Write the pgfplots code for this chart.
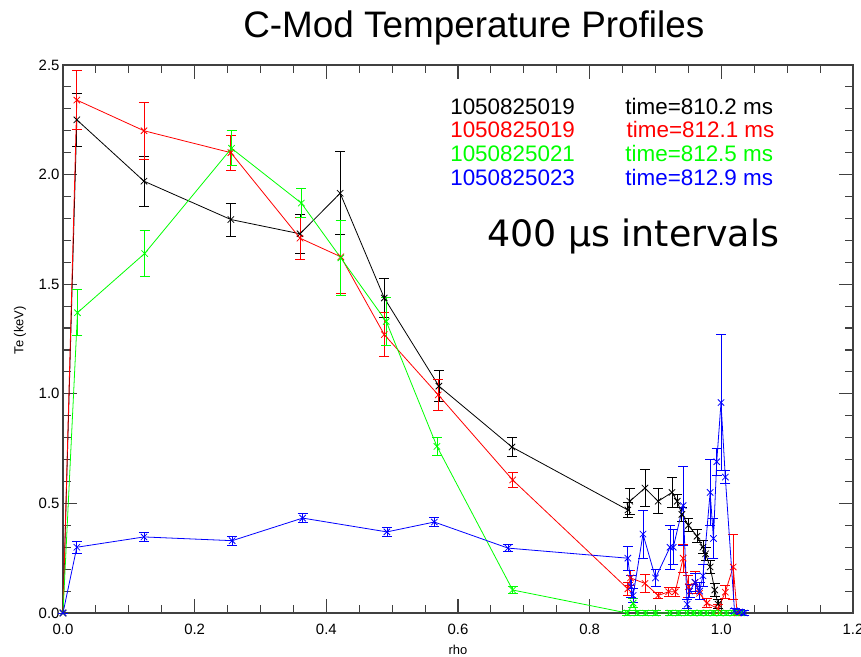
\documentclass[border=0pt]{standalone}
\usepackage{fontspec}
\setmainfont{Liberation Sans}
\newfontfamily\dejavu{DejaVu Sans}
\usepackage{pgfplots}
\pgfplotsset{compat=1.18}
\usepackage{pgfplotstable}

\pgfplotstableread{
x y e
0.000 0.00 0
0.021 2.25 0.12
0.123 1.97 0.115
0.255 1.795 0.075
0.360 1.73 0.09
0.421 1.915 0.19
0.488 1.437 0.09
0.571 1.035 0.07
0.682 0.757 0.043
0.858 0.47 0.035
0.861 0.51 0.06
0.884 0.57 0.085
0.904 0.51 0.057
0.925 0.55 0.07
0.933 0.51 0.03
0.940 0.45 0.03
0.950 0.40 0.03
0.963 0.35 0.03
0.972 0.30 0.03
0.976 0.27 0.03
0.983 0.21 0.03
0.990 0.105 0.03
0.995 0.04 0.02
}\tblack

\pgfplotstableread{
x y e
0.000 0.00 0
0.021 2.34 0.135
0.123 2.20 0.13
0.255 2.10 0.08
0.360 1.71 0.095
0.422 1.625 0.165
0.488 1.27 0.10
0.570 0.995 0.07
0.683 0.607 0.035
0.858 0.11 0.03
0.862 0.16 0.035
0.884 0.135 0.04
0.904 0.08 0.015
0.920 0.097 0.02
0.930 0.097 0.02
0.942 0.25 0.065
0.950 0.12 0.05
0.960 0.14 0.05
0.967 0.09 0.03
0.978 0.045 0.02
0.995 0.02 0.02
1.006 0.095 0.03
1.018 0.21 0.15
1.024 0.0 0
}\tred

\pgfplotstableread{
x y e
0.000 0.00 0
0.022 1.37 0.105
0.124 1.64 0.105
0.256 2.12 0.08
0.362 1.87 0.065
0.422 1.62 0.17
0.491 1.33 0.11
0.568 0.76 0.04
0.683 0.105 0.015
0.857 0.0 0.01
0.866 0.045 0.02
0.872 0.0 0.01
0.885 0.0 0.01
0.900 0.0 0.01
0.922 0.0 0.01
0.935 0.0 0.01
0.948 0.0 0.01
0.958 0.0 0.01
0.968 0.0 0.01
0.978 0.0 0.01
0.988 0.0 0.01
0.998 0.0 0.01
1.008 0.0 0.01
1.018 0.0 0.01
1.030 0.0 0.01
}\tgreen

\pgfplotstableread{
x y e
0.000 0.00 0
0.021 0.30 0.028
0.123 0.347 0.02
0.257 0.33 0.02
0.364 0.433 0.02
0.492 0.37 0.02
0.564 0.415 0.02
0.676 0.296 0.015
0.858 0.25 0.055
0.863 0.12 0.05
0.866 0.08 0.03
0.881 0.36 0.11
0.900 0.16 0.04
0.922 0.30 0.10
0.927 0.30 0.08
0.942 0.49 0.18
0.948 0.04 0.02
0.952 0.10 0.03
0.960 0.14 0.04
0.967 0.10 0.04
0.972 0.17 0.05
0.983 0.55 0.15
0.988 0.34 0.09
0.993 0.69 0.06
0.9995 0.96 0.31
1.006 0.62 0.03
1.020 0.01 0.01
1.028 0.005 0.01
1.035 0.0 0.01
}\tblue

\pgfplotsset{
  idl/.style={line width=0.8pt, mark=x, mark size=4.5bp,
    mark options={solid, line width=0.8pt},
    error bars/.cd, y dir=both, y explicit,
    error bar style={line width=0.8pt},
    error mark options={mark size=5bp, line width=0.8pt, rotate=90}},
}

\begin{document}
\begin{tikzpicture}
\begin{axis}[
  name=ax, at={(0,0)}, anchor=south west,
  scale only axis, width=790bp, height=548bp,
  xmin=0, xmax=1.2, ymin=0, ymax=2.5,
  xtick={0,0.2,0.4,0.6,0.8,1.0,1.2}, minor x tick num=3,
  ytick={0,0.5,1.0,1.5,2.0,2.5}, minor y tick num=4,
  tick align=inside,
  major tick length=14bp, minor tick length=8bp,
  axis line style={line width=1.5pt, black!75},
  every tick/.style={black!75, line width=1.1pt},
  /pgf/number format/assume math mode=true,
  /pgf/number format/fixed,
  /pgf/number format/fixed zerofill,
  /pgf/number format/precision=1,
  ticklabel style={font=\fontsize{15}{15}\selectfont},
  xticklabel style={yshift=-8bp},
  xlabel={rho}, ylabel={Te (keV)},
  every axis x label/.style={at={(rel axis cs:0.5,0)}, yshift=-37bp, anchor=center, font=\fontsize{13}{13}\selectfont},
  every axis y label/.style={at={(rel axis cs:0,0.516)}, xshift=-43bp, rotate=90, anchor=center, font=\fontsize{13}{13}\selectfont},
  title={C-Mod Temperature Profiles},
  title style={at={(rel axis cs:0.52,1)}, anchor=base, yshift=22bp, font=\fontsize{37}{37}\selectfont},
  clip=false,
]
\addplot[black, idl] table[x=x, y=y, y error=e] {\tblack};
\addplot[red, idl] table[x=x, y=y, y error=e] {\tred};
\addplot[green, idl] table[x=x, y=y, y error=e] {\tgreen};
\addplot[blue, idl] table[x=x, y=y, y error=e] {\tblue};

\begin{scope}[every node/.style={anchor=base west, inner sep=0pt, font=\fontsize{22.5}{22.5}\selectfont}]
\node[black] at (axis cs:0.588,2.272) {1050825019};
\node[red]   at (axis cs:0.588,2.167) {1050825019};
\node[green] at (axis cs:0.588,2.058) {1050825021};
\node[blue]  at (axis cs:0.588,1.948) {1050825023};
\node[black] at (axis cs:0.854,2.272) {time=810.2 ms};
\node[red]   at (axis cs:0.856,2.167) {time=812.1 ms};
\node[green] at (axis cs:0.854,2.058) {time=812.5 ms};
\node[blue]  at (axis cs:0.854,1.948) {time=812.9 ms};
\end{scope}
\node[anchor=base west, inner sep=0pt, font=\dejavu\fontsize{36.5}{36.5}\selectfont] at (axis cs:0.644,1.67) {400 μs intervals};
\end{axis}
\pgfresetboundingbox
\useasboundingbox (-63bp,-44bp) rectangle (798bp,613bp);
\end{tikzpicture}
\end{document}
